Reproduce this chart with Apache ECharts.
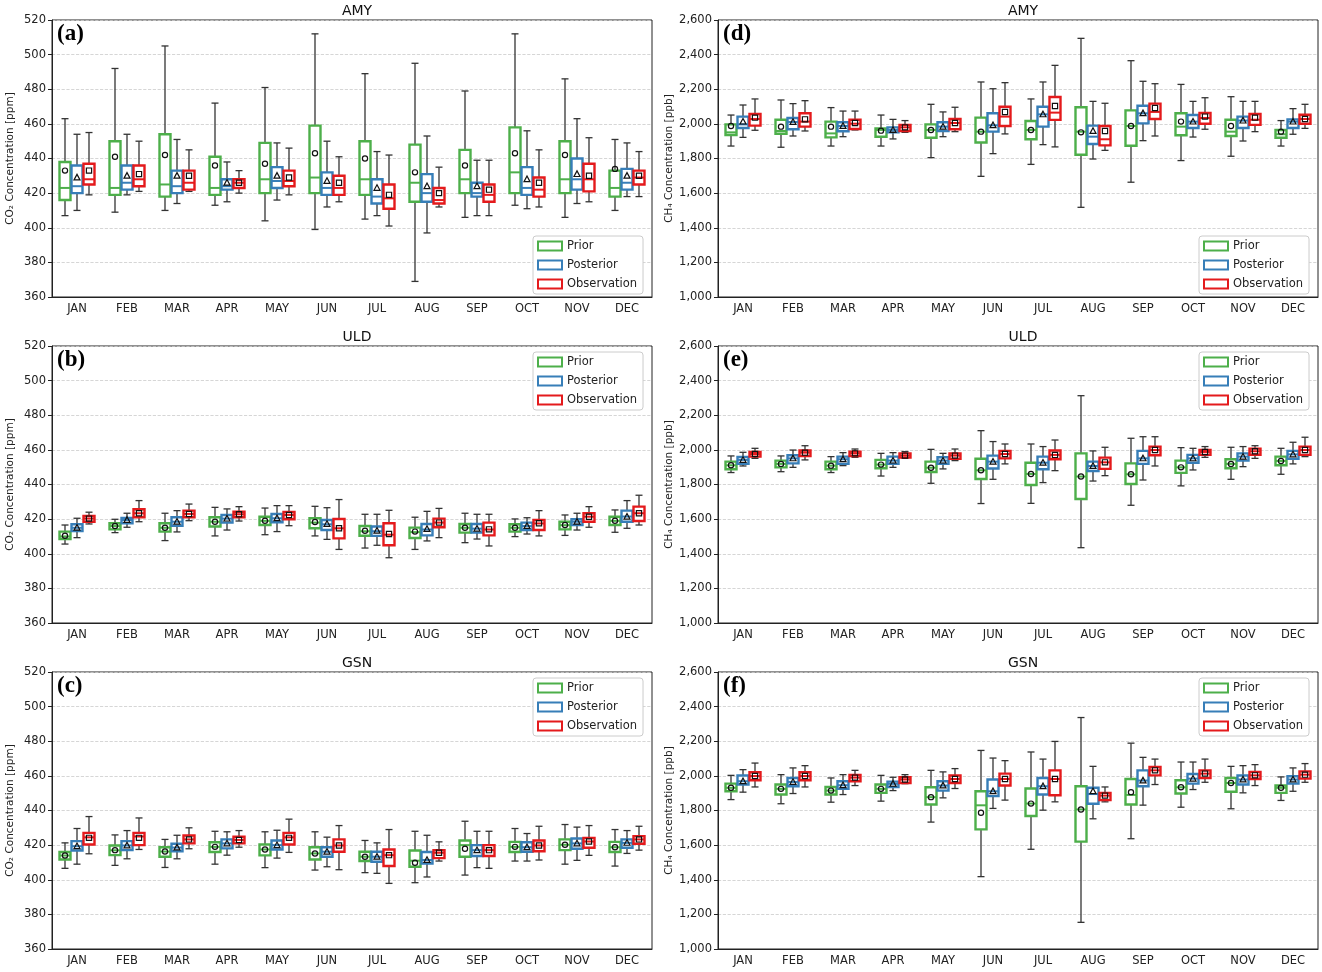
<!DOCTYPE html>
<html>
<head>
  <meta charset="utf-8">
  <title>CO2 / CH4 monthly boxplots</title>
  <script src="https://cdn.jsdelivr.net/npm/echarts@6/dist/echarts.min.js"></script>
  <style>body{margin:0;background:#fff}</style>
</head>
<body>
<div id="main" style="width:1322px;height:972px;"></div>
<script>
var months = ['JAN','FEB','MAR','APR','MAY','JUN','JUL','AUG','SEP','OCT','NOV','DEC'];
var co2Ticks = [360, 520, 20];
var ch4Ticks = [1000, 2600, 200];

// each box: [min, q1, median, q3, max]
// (a) AMY CO2
var aPrior = [[407,416,423,438,463],[409,419,423,450,492],[410,418,425,454,505],[413,419,423,441,472],[404,420,428,449,481],[399,420,429,459,512],[405,419,428,450,489],[369,415,426,448,495],[406,420,428,445,479],[413,420,432,458,512],[406,420,428,450,486],[410,418,423,433,451]];
var aPriorMean = [433,441,442,436,437,443,440,432,436,443,442,434];
var aPost = [[410,420,424,436,454],[419,422,426,436,454],[414,420,424,433,451],[415,422,424,428,438],[416,423,427,435,449],[412,419,423,432,450],[407,414,418,428,444],[397,415,420,431,453],[407,418,420,426,439],[411,419,423,435,456],[414,422,428,440,463],[418,422,426,434,449]];
var aPostMean = [429,430,430,426,430,427,423,424,424,428,431,430];
var aObs = [[419,425,428,437,455],[421,424,428,436,450],[421,422,426,433,445],[420,423,426,428,433],[419,424,427,433,446],[415,419,423,430,441],[401,411,417,425,442],[412,414,416,423,435],[407,415,419,425,439],[412,418,422,429,445],[415,421,428,437,452],[418,425,429,433,444]];
var aObsMean = [433,431,430,426,429,426,419,420,422,426,430,430];

// (b) ULD CO2
var bPrior = [[405.6,408.5,410,412.8,416.6],[412.2,414.1,416,417.6,419.9],[407.6,412.8,415,417.6,423.4],[410.3,415.7,418.5,421.1,426.8],[411,416.6,419,421.4,426.4],[410.3,414.7,418,420.5,427.4],[403.3,410.4,413,416,422.8],[402.5,409.1,412.5,415.1,421.1],[406.4,412.2,415,417.2,423.4],[409.9,412.8,415,417,420.1],[410.6,414.1,416.5,418.5,422.4],[412.4,416.6,419,421.4,425.3]];
var bPriorMean = [410.4,416,415,418.5,419.1,418.3,413.3,412.8,415,415,416.6,419.1];
var bPost = [[409.3,413.1,415,417,420.5],[415.3,417.6,419.5,420.7,423.4],[412.6,416.2,418.5,421.1,424.9],[413.7,418,420.3,422.4,425.9],[412.8,418.2,420.5,423,427.8],[408.3,413.7,417,419.5,426.6],[404.9,410.3,413,415.7,422.8],[407.4,410.6,414,417.2,424.5],[408.5,412.2,414.5,417.2,422.8],[411.4,413.7,416,418,420.8],[413.7,416.6,418.5,419.9,423.4],[414.7,418.5,421.5,424.9,430.7]];
var bPostMean = [415,419.5,418.5,420.3,420.5,417.2,413.3,414.3,414.5,416,418.5,421.4];
var bObs = [[417.2,418.5,420.3,421.8,424],[418.5,421.1,423.4,425.7,430.7],[419.1,421.1,423,424.9,428.7],[418.9,421.1,422.8,424.3,427.2],[416.2,419.9,422.4,424.1,427.8],[402.5,408.9,414.7,420.1,431.3],[397.7,404.9,411,417.6,425.1],[409.3,415.3,418,420.3,426.2],[404.5,410.6,414,418,422.8],[410.3,413.7,417.5,419.5,424.9],[415.3,418.5,421.4,423.4,427.2],[416.6,418.9,423.4,427.2,433.8]];
var bObsMean = [420.3,423.4,423,422.8,422.4,414.7,411.4,418,414.1,417.6,421.4,423.4];

// (c) GSN CO2
var cPrior = [[406.6,411.7,414,416,421.3],[408.3,414.2,417,419.8,425.9],[407.1,413.3,416.3,418.8,423.3],[409,416,419,421.7,428],[407,414.1,417.5,420.4,427.7],[405.6,411.7,415.2,418.8,427.7],[404.1,410.8,413.3,416.2,422.7],[398.3,407.5,411,416.9,428],[402.7,413.3,420,422.7,433.8],[410.8,416,419,421.9,429.6],[409,417.1,420.2,423.3,431.9],[407.9,416,418.8,421.9,429]];
var cPriorMean = [414,417.1,416.3,419,417.5,415.2,413.3,409.8,417.9,419,420.2,418.8];
var cPost = [[409,416.9,419.4,422.3,429.6],[412.1,417.1,419.8,422.3,428.4],[412.1,416.5,418.6,420.8,425.7],[414.2,418.1,421,423.3,427.7],[412.5,417.5,420,422.7,428.6],[407.5,413.3,416.2,418.8,424.6],[403.7,410.4,413.3,416.2,421.3],[401.6,409.4,411.4,416,425.7],[407,413.7,417.1,420,428],[410.8,416.2,418.8,421.7,426.7],[411.2,417.9,421,423.8,430.4],[415.2,418.5,421.3,423.3,428.4]];
var cPostMean = [419.4,419.8,418.6,421,420,416.2,413.3,411.4,417.1,418.8,421,421.3];
var cObs = [[415,420.4,424.5,427.1,436.5],[417.5,420,425,427.1,435.7],[417.9,421,423.3,425.6,430],[418.8,421,423,424.8,428.4],[415.8,420.4,424.5,427.1,435],[405.8,416.2,419.8,423.3,431.3],[397.9,407.9,414.2,417.5,429],[410.8,412.5,415.6,417.1,421.9],[406.6,413.7,417.1,420,428],[411.4,416.5,419.8,422.7,430.9],[414.1,418.5,422.1,424.2,431.3],[417.1,420.8,423.3,425.2,430.9]];
var cObsMean = [424.2,424.2,423.3,423,424.2,419.8,414.2,415.6,417.1,419.8,422.1,423.3];

// (d) AMY CH4
var dPrior = [[1872,1936,1951,1997,2051],[1865,1943,1959,2024,2138],[1872,1922,1945,2013,2094],[1872,1926,1965,1974,2051],[1805,1920,1965,1997,2113],[1697,1892,1955,2036,2242],[1766,1911,1965,2017,2144],[1518,1822,1955,2096,2494],[1663,1874,1988,2078,2365],[1788,1934,1984,2061,2228],[1813,1930,1955,2024,2157],[1872,1920,1940,1965,2019]];
var dPriorMean = [1988,1984,1984,1961,1965,1955,1965,1951,1988,2013,1988,1955];
var dPost = [[1922,1976,1997,2042,2109],[1930,1969,2011,2034,2117],[1926,1957,1988,2009,2074],[1913,1951,1965,1980,2026],[1926,1959,1984,2009,2069],[1828,1955,1992,2061,2203],[1880,1984,2055,2099,2242],[1797,1884,1926,1990,2130],[1903,2003,2061,2105,2246],[1924,1976,2013,2051,2130],[1901,1976,2019,2042,2130],[1940,1976,2013,2026,2088]];
var dPostMean = [2013,2011,1988,1965,1984,1992,2055,1959,2061,2013,2019,2013];
var dObs = [[1963,1990,2028,2057,2144],[1959,1984,2013,2061,2134],[1965,1970,2001,2024,2074],[1951,1959,1980,1994,2019],[1955,1969,2005,2028,2096],[1942,1988,2042,2099,2238],[1867,2023,2065,2155,2338],[1847,1876,1911,1988,2119],[1930,2028,2069,2117,2232],[1969,2001,2034,2063,2151],[1955,1994,2024,2057,2130],[1974,2001,2028,2053,2113]];
var dObsMean = [2036,2026,2005,1980,2005,2069,2103,1959,2092,2042,2036,2028];

// (e) ULD CH4
var ePrior = [[1869,1888,1911,1932,1965],[1874,1899,1919,1938,1965],[1869,1888,1909,1932,1961],[1849,1894,1915,1942,1980],[1807,1872,1897,1932,2003],[1690,1832,1882,1949,2111],[1691,1797,1861,1926,2034],[1435,1716,1846,1980,2313],[1680,1803,1859,1922,2067],[1792,1867,1899,1938,2013],[1830,1894,1919,1946,2015],[1859,1911,1936,1961,2009]];
var ePriorMean = [1911,1919,1909,1915,1897,1882,1861,1846,1859,1899,1919,1936];
var ePost = [[1907,1919,1942,1959,1986],[1899,1922,1951,1969,1999],[1909,1919,1946,1961,1984],[1899,1919,1938,1961,1984],[1890,1919,1938,1957,1980],[1830,1892,1932,1967,2048],[1811,1888,1926,1961,2019],[1820,1878,1907,1932,1994],[1826,1919,1951,1994,2076],[1884,1926,1951,1971,2009],[1903,1938,1961,1980,2019],[1919,1948,1974,1994,2044]];
var ePostMean = [1942,1951,1946,1938,1938,1932,1926,1907,1951,1951,1961,1974];
var eObs = [[1951,1961,1976,1988,2009],[1942,1965,1984,1996,2024],[1957,1965,1980,1990,2005],[1951,1955,1967,1980,1990],[1938,1948,1967,1980,2005],[1919,1951,1976,1994,2034],[1880,1946,1971,1996,2057],[1851,1890,1928,1955,2015],[1907,1969,1999,2019,2076],[1957,1971,1988,1999,2019],[1951,1972,1992,2007,2024],[1961,1971,1999,2019,2073]];
var eObsMean = [1976,1984,1980,1967,1967,1976,1971,1928,1999,1988,1992,1999];

// (f) GSN CH4
var fPrior = [[1863,1911,1931,1955,2003],[1839,1892,1925,1950,2007],[1848,1892,1915,1936,1988],[1854,1902,1925,1950,2003],[1733,1835,1877,1934,2032],[1418,1691,1830,1911,2147],[1576,1768,1840,1927,2138],[1154,1620,1806,1940,2337],[1637,1835,1890,1982,2189],[1819,1898,1934,1975,2080],[1810,1908,1959,1988,2055],[1858,1902,1931,1944,1994]];
var fPriorMean = [1931,1925,1915,1925,1877,1787,1840,1806,1906,1934,1959,1931];
var fPost = [[1906,1950,1969,2002,2036],[1898,1940,1965,1988,2046],[1892,1925,1946,1969,2007],[1915,1936,1954,1967,1992],[1873,1915,1944,1969,2023],[1812,1883,1911,1979,2103],[1802,1892,1940,1988,2097],[1752,1839,1895,1931,2055],[1831,1940,1973,2032,2107],[1921,1955,1984,2011,2080],[1902,1950,1979,2002,2059],[1911,1955,1979,1998,2046]];
var fPostMean = [1969,1965,1946,1954,1944,1911,1940,1911,1973,1984,1979,1979];
var fObs = [[1936,1975,1999,2021,2074],[1936,1975,1999,2021,2059],[1944,1969,1990,2005,2032],[1955,1959,1979,1992,2007],[1927,1959,1982,2002,2042],[1860,1944,1982,2013,2088],[1850,1888,1982,2032,2199],[1850,1860,1886,1902,1936],[1950,2003,2032,2051,2097],[1963,1988,2013,2032,2097],[1944,1982,2003,2023,2065],[1963,1984,2007,2026,2071]];
var fObsMean = [1999,1999,1990,1979,1982,1982,1982,1886,2032,2013,2003,2007];

var GREEN = '#4daf4a', BLUE = '#377eb8', RED = '#e41a1c';

var panels = [
  {letter:'(a)', site:'AMY', gas:'co2', left:52, top:20, prior:aPrior, priorM:aPriorMean, post:aPost, postM:aPostMean, obs:aObs, obsM:aObsMean, legendTop:236},
  {letter:'(b)', site:'ULD', gas:'co2', left:52, top:346, prior:bPrior, priorM:bPriorMean, post:bPost, postM:bPostMean, obs:bObs, obsM:bObsMean, legendTop:352},
  {letter:'(c)', site:'GSN', gas:'co2', left:52, top:672, prior:cPrior, priorM:cPriorMean, post:cPost, postM:cPostMean, obs:cObs, obsM:cObsMean, legendTop:678},
  {letter:'(d)', site:'AMY', gas:'ch4', left:718, top:20, prior:dPrior, priorM:dPriorMean, post:dPost, postM:dPostMean, obs:dObs, obsM:dObsMean, legendTop:236},
  {letter:'(e)', site:'ULD', gas:'ch4', left:718, top:346, prior:ePrior, priorM:ePriorMean, post:ePost, postM:ePostMean, obs:eObs, obsM:eObsMean, legendTop:352},
  {letter:'(f)', site:'GSN', gas:'ch4', left:718, top:672, prior:fPrior, priorM:fPriorMean, post:fPost, postM:fPostMean, obs:fObs, obsM:fObsMean, legendTop:678}
];

function boxRender(offset, color, marker) {
  return function (params, api) {
    var i = api.value(0);
    var p = [];
    for (var k = 1; k <= 6; k++) p.push(api.coord([i, api.value(k)]));
    var cx = p[0][0] + offset;
    var hw = 5.5, cw = 3.5;
    var wl = {stroke:'#333', lineWidth:1.3};
    var ch = [
      {type:'line', shape:{x1:cx,y1:p[0][1],x2:cx,y2:p[1][1]}, style:wl},
      {type:'line', shape:{x1:cx,y1:p[3][1],x2:cx,y2:p[4][1]}, style:wl},
      {type:'line', shape:{x1:cx-cw,y1:p[0][1],x2:cx+cw,y2:p[0][1]}, style:wl},
      {type:'line', shape:{x1:cx-cw,y1:p[4][1],x2:cx+cw,y2:p[4][1]}, style:wl},
      {type:'rect', shape:{x:cx-hw,y:p[3][1],width:hw*2,height:Math.max(p[1][1]-p[3][1],1)},
        style:{fill:'#fff', stroke:color, lineWidth:2.4}},
      {type:'line', shape:{x1:cx-hw,y1:p[2][1],x2:cx+hw,y2:p[2][1]}, style:{stroke:color, lineWidth:2}}
    ];
    var my = p[5][1], ms = {fill:'none', stroke:'#111', lineWidth:1.2};
    if (marker === 'circle') ch.push({type:'circle', shape:{cx:cx,cy:my,r:2.6}, style:ms});
    else if (marker === 'triangle') ch.push({type:'polygon', shape:{points:[[cx,my-3.2],[cx-3,my+2.4],[cx+3,my+2.4]]}, style:ms});
    else ch.push({type:'rect', shape:{x:cx-2.6,y:my-2.6,width:5.2,height:5.2}, style:ms});
    return {type:'group', children:ch};
  };
}

function toData(boxes, means) {
  return boxes.map(function (b, i) { return [i, b[0], b[1], b[2], b[3], b[4], means[i]]; });
}

var option = {
  animation:false,
  backgroundColor:'#fff',
  title:[], grid:[], xAxis:[], yAxis:[], series:[], legend:[], graphic:[]
};

panels.forEach(function (pn, g) {
  var t = pn.gas === 'co2' ? co2Ticks : ch4Ticks;
  option.grid.push({left:pn.left, top:pn.top, width:600, height:277, show:true, borderColor:'#222', borderWidth:1, backgroundColor:'transparent'});
  option.title.push({text:pn.site, left:pn.left + 300, top:pn.top - 21, textAlign:'center',
    textStyle:{fontFamily:'DejaVu Sans', fontSize:14, fontWeight:'normal', color:'#111'}});
  option.xAxis.push({type:'category', gridIndex:g, data:months, boundaryGap:true,
    axisLine:{lineStyle:{color:'#222'}}, axisTick:{alignWithLabel:true, length:4, lineStyle:{color:'#222'}},
    axisLabel:{fontFamily:'DejaVu Sans', fontSize:11.5, color:'#222', margin:6}, splitLine:{show:false}});
  option.yAxis.push({type:'value', gridIndex:g, min:t[0], max:t[1], interval:t[2],
    name: pn.gas === 'co2' ? 'CO₂ Concentration [ppm]' : 'CH₄ Concentration [ppb]',
    nameLocation:'middle', nameGap: pn.gas === 'co2' ? 36 : 42,
    nameTextStyle:{fontFamily:'DejaVu Sans', fontSize:10.5, color:'#222'},
    axisLine:{show:true, lineStyle:{color:'#222'}}, axisTick:{show:true, length:4, lineStyle:{color:'#222'}},
    axisLabel:{fontFamily:'DejaVu Sans', fontSize:11.5, color:'#222', margin:6},
    splitLine:{show:true, lineStyle:{color:'#ccc', type:'dashed', width:0.8}}});
  [['Prior', pn.prior, pn.priorM, -12, GREEN, 'circle'],
   ['Posterior', pn.post, pn.postM, 0, BLUE, 'triangle'],
   ['Observation', pn.obs, pn.obsM, 12, RED, 'square']].forEach(function (s) {
    option.series.push({type:'custom', name:s[0], xAxisIndex:g, yAxisIndex:g,
      itemStyle:{color:s[4]},
      encode:{x:0, y:[1,2,3,4,5,6]}, data:toData(s[1], s[2]), renderItem:boxRender(s[3], s[4], s[5])});
  });
  option.legend.push({orient:'vertical', left:pn.left + 481, top:pn.legendTop, width:117,
    backgroundColor:'#fff', borderColor:'#ccc', borderWidth:1, borderRadius:3, padding:[4,6,4,4],
    itemWidth:24, itemHeight:9, itemGap:7, selectedMode:false,
    textStyle:{fontFamily:'DejaVu Sans', fontSize:11.5, color:'#222'},
    data:[
      {name:'Prior', icon:'rect', itemStyle:{color:'#fff', borderColor:GREEN, borderWidth:2}},
      {name:'Posterior', icon:'rect', itemStyle:{color:'#fff', borderColor:BLUE, borderWidth:2}},
      {name:'Observation', icon:'rect', itemStyle:{color:'#fff', borderColor:RED, borderWidth:2}}
    ]});
  option.graphic.push({type:'text', left:pn.left + 5, top:pn.top + 3,
    style:{text:pn.letter, font:'bold 23px "Liberation Serif", serif', fill:'#000'}});
});

var myChart = echarts.init(document.getElementById('main'));
myChart.setOption(option);
</script>
</body>
</html>
